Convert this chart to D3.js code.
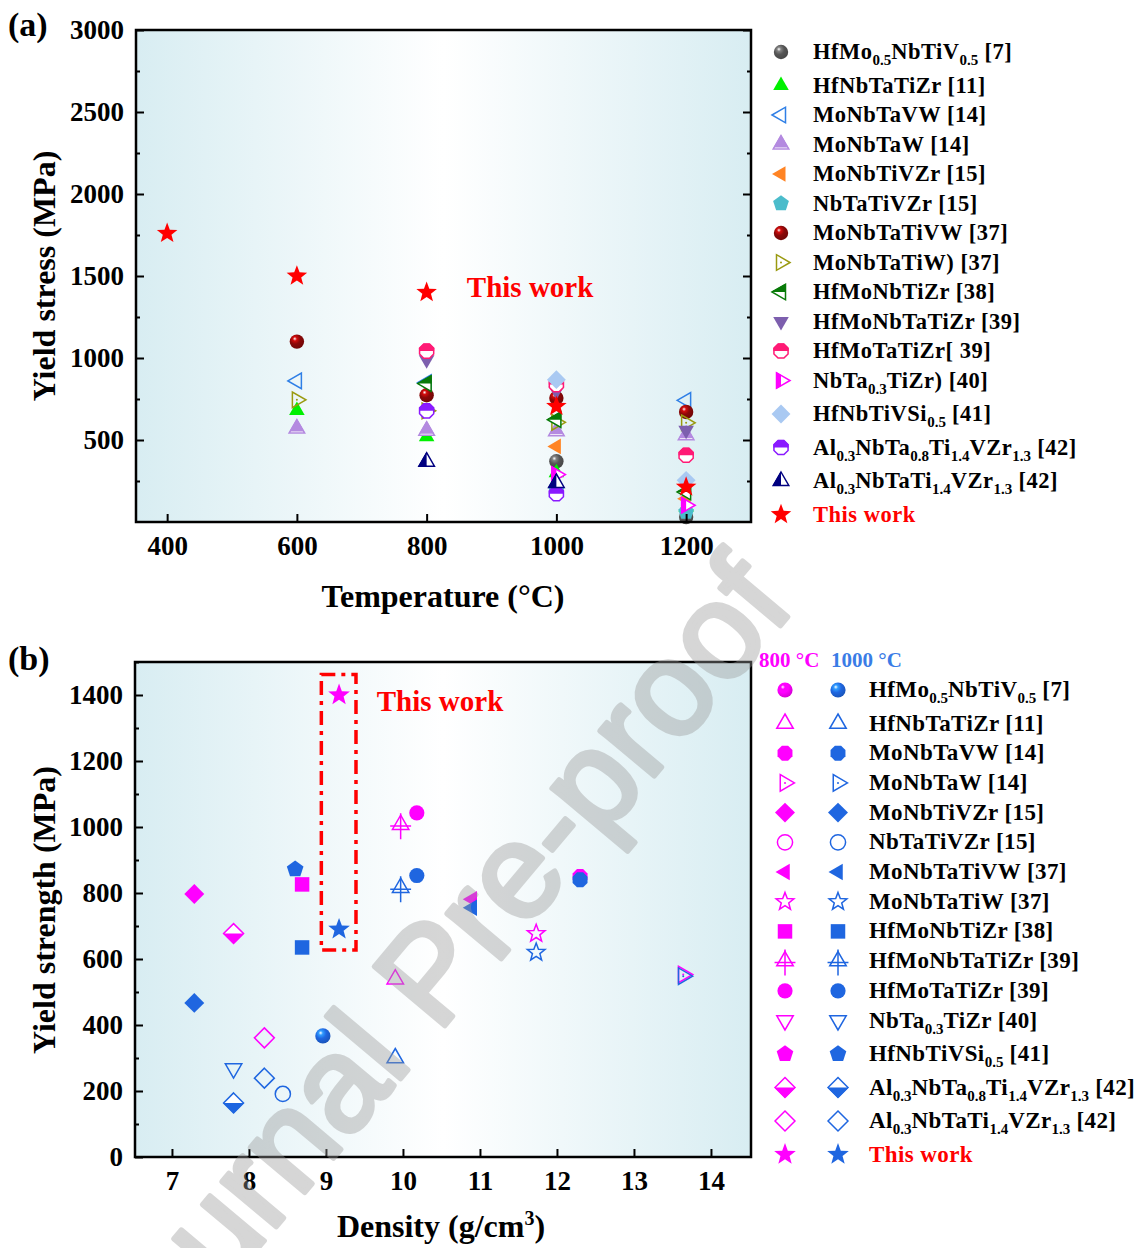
<!DOCTYPE html>
<meta charset="utf-8">
<style>
body { margin: 0; background: #fff; }
svg { display: block; }
text { font-family: "Liberation Serif", "Times New Roman", serif; font-weight: bold; fill: #000; }
</style>
<svg width="1144" height="1248"></svg>
<script src="https://cdn.jsdelivr.net/npm/d3@7"></script>
<script>

// ---------- panel (a): yield stress vs temperature ----------
var temps = [400, 600, 800, 1000, 1200];
var tempTicks = [400, 600, 800, 1000, 1200];
var stressTicks = [500, 1000, 1500, 2000, 2500, 3000];
var stressMinor = [250, 750, 1250, 1750, 2250, 2750];

var alloysA = [
  "HfMo{0.5}NbTiV{0.5} [7]", "HfNbTaTiZr [11]", "MoNbTaVW [14]", "MoNbTaW [14]",
  "MoNbTiVZr [15]", "NbTaTiVZr [15]", "MoNbTaTiVW [37]", "MoNbTaTiW) [37]",
  "HfMoNbTiZr [38]", "HfMoNbTaTiZr [39]", "HfMoTaTiZr[ 39]", "NbTa{0.3}TiZr) [40]",
  "HfNbTiVSi{0.5} [41]", "Al{0.3}NbTa{0.8}Ti{1.4}VZr{1.3} [42]",
  "Al{0.3}NbTaTi{1.4}VZr{1.3} [42]", "This work"
];
// one row per alloy, one column per temperature (null = not tested)
var stressA = [
  [null, null, null, 370, 30],
  [null, 680, 520, 300, 92],
  [null, 860, 850, null, 742],
  [null, 570, 557, 553, 529],
  [null, null, null, 461, 142],
  [null, null, null, 191, 61],
  [null, 1100, 773, 756, 671],
  [null, 745, 678, 608, 605],
  [null, null, 844, 624, 183],
  [null, null, 990, 800, 559],
  [null, null, 1042, 838, 407],
  [null, null, null, 289, 102],
  [null, null, null, 868, 254],
  [null, null, 678, 172, null],
  [null, null, 368, 238, null],
  [1760, 1500, 1400, 705, 213]
];

// ---------- panel (b): yield strength vs density ----------
var densTicks = [7, 8, 9, 10, 11, 12, 13, 14];
var strengthTicks = [0, 200, 400, 600, 800, 1000, 1200, 1400];
var strengthMinor = [100, 300, 500, 700, 900, 1100, 1300, 1500];

var alloysB = [
  "HfMo{0.5}NbTiV{0.5} [7]", "HfNbTaTiZr [11]", "MoNbTaVW [14]", "MoNbTaW [14]",
  "MoNbTiVZr [15]", "NbTaTiVZr [15]", "MoNbTaTiVW [37]", "MoNbTaTiW [37]",
  "HfMoNbTiZr [38]", "HfMoNbTaTiZr [39]", "HfMoTaTiZr [39]", "NbTa{0.3}TiZr [40]",
  "HfNbTiVSi{0.5} [41]", "Al{0.3}NbTa{0.8}Ti{1.4}VZr{1.3} [42]",
  "Al{0.3}NbTaTi{1.4}VZr{1.3} [42]", "This work"
];
var density = [8.96, 9.9, 12.3, 13.64, 7.29, 8.44, 10.9, 11.73, 8.69, 9.97, 10.18, 7.8, 8.6, 7.8, 8.2, 9.17];
var strength800 = [null, 539, 850, 553, 797, null, 781, 677, 826, 1007, 1043, null, null, 677, 361, 1400];
var strength1000 = [367, 300, 840, 548, 467, 191, 755, 620, 635, 816, 853, 268, 872, 164, 239, 690];
var tempLabels = ["800 °C", "1000 °C"];

// ---------- marker styles ----------
var markA = [
  {shape: "circle", color: "#555555", fill: "sphere"},
  {shape: "triUp", color: "#00f000", fill: "full"},
  {shape: "triLeft", color: "#2f7fe6", fill: "open"},
  {shape: "triUp", color: "#b48ae0", fill: "upper"},
  {shape: "triLeft", color: "#ff8424", fill: "full"},
  {shape: "pentagon", color: "#4bbccb", fill: "full"},
  {shape: "circle", color: "#8a0808", fill: "sphere"},
  {shape: "triRight", color: "#9a9a10", fill: "open", dot: true},
  {shape: "triLeft", color: "#087a08", fill: "top"},
  {shape: "triDown", color: "#7d5fae", fill: "full"},
  {shape: "octagon", color: "#ff1a75", fill: "top"},
  {shape: "triRight", color: "#ff00ff", fill: "left"},
  {shape: "diamond", color: "#a9c9f2", fill: "full"},
  {shape: "octagon", color: "#8a1aff", fill: "top"},
  {shape: "triUp", color: "#000080", fill: "left"},
  {shape: "star", color: "#ff0000", fill: "full"}
];
var markB = [
  {shape: "circle", fill: "sphere"},
  {shape: "triUp", fill: "open"},
  {shape: "octagon", fill: "full"},
  {shape: "triRight", fill: "open", dot: true},
  {shape: "diamond", fill: "full"},
  {shape: "circle", fill: "open"},
  {shape: "triLeft", fill: "full"},
  {shape: "starOpen", fill: "open"},
  {shape: "square", fill: "full"},
  {shape: "triUp", fill: "open", cross: true},
  {shape: "circle", fill: "full"},
  {shape: "triDown", fill: "open"},
  {shape: "pentagon", fill: "full"},
  {shape: "diamond", fill: "bottom"},
  {shape: "diamond", fill: "open"},
  {shape: "star", fill: "full"}
];
var tempColors = ["#ff00ff", "#1f66e0"];

var svg = d3.select("svg");
svg.append("rect").attr("width", 1144).attr("height", 1248).attr("fill", "#fff");
var defs = svg.append("defs");

var bg = defs.append("linearGradient").attr("id", "bg");
bg.append("stop").attr("offset", 0).attr("stop-color", "#d8edf2");
bg.append("stop").attr("offset", 0.5).attr("stop-color", "#ffffff");
bg.append("stop").attr("offset", 1).attr("stop-color", "#d8edf2");

var halves = {top: [-30, -30, 60, 30], bottom: [-30, 0, 60, 30], left: [-30, -30, 30, 60], upper: [-30, -30, 60, 33]};
Object.keys(halves).forEach(function(k) {
  var h = halves[k];
  defs.append("clipPath").attr("id", "half-" + k)
    .append("rect").attr("x", h[0]).attr("y", h[1]).attr("width", h[2]).attr("height", h[3]);
});

var sphereIds = {};
function sphereGrad(color) {
  var id = "sph" + color.slice(1);
  if (!sphereIds[id]) {
    var g = defs.append("radialGradient").attr("id", id)
      .attr("cx", 0.4).attr("cy", 0.35).attr("r", 0.7).attr("fx", 0.35).attr("fy", 0.3);
    g.append("stop").attr("offset", 0).attr("stop-color", "#ffffff");
    g.append("stop").attr("offset", 0.2).attr("stop-color", d3.color(color).brighter(1.2));
    g.append("stop").attr("offset", 0.5).attr("stop-color", color);
    g.append("stop").attr("offset", 1).attr("stop-color", d3.color(color).darker(0.6));
    sphereIds[id] = true;
  }
  return "url(#" + id + ")";
}

function poly(n, r, a0) {
  var p = [];
  for (var i = 0; i < n; i++) {
    var a = (a0 + 360 * i / n) * Math.PI / 180;
    p.push([r * Math.cos(a), r * Math.sin(a)]);
  }
  return p;
}
function starPts(r) {
  var p = [];
  for (var i = 0; i < 10; i++) {
    var rr = i % 2 ? r * 0.42 : r, a = (-90 + 36 * i) * Math.PI / 180;
    p.push([rr * Math.cos(a), rr * Math.sin(a)]);
  }
  return p;
}
function shapePath(shape, r) {
  if (shape === "circle") return d3.arc()({innerRadius: 0, outerRadius: r * 0.8, startAngle: 0, endAngle: 2 * Math.PI});
  var pts = {
    triUp: poly(3, r, -90),
    triDown: poly(3, r, 90),
    triLeft: poly(3, r, 180),
    triRight: poly(3, r, 0),
    diamond: poly(4, r * 1.05, -90),
    square: poly(4, r * 1.08, 45),
    pentagon: poly(5, r * 0.92, -90),
    octagon: poly(8, r * 0.85, 22.5),
    star: starPts(r * 1.2),
    starOpen: starPts(r * 0.98)
  }[shape];
  return "M" + pts.map(function(p) { return p[0].toFixed(2) + "," + p[1].toFixed(2); }).join("L") + "Z";
}

function drawMarker(g, m, color, r) {
  var d = shapePath(m.shape, r);
  if (m.fill === "full") {
    g.append("path").attr("d", d).attr("fill", color);
  } else if (m.fill === "sphere") {
    g.append("path").attr("d", d).attr("fill", sphereGrad(color));
  } else if (m.fill === "open") {
    g.append("path").attr("d", d).attr("fill", "none").attr("stroke", color).attr("stroke-width", 1.5);
  } else {
    g.append("path").attr("d", d).attr("fill", "#fff").attr("stroke", color).attr("stroke-width", 1.5);
    g.append("path").attr("d", d).attr("fill", color).attr("stroke", color).attr("stroke-width", 1)
      .attr("clip-path", "url(#half-" + m.fill + ")");
  }
  if (m.dot) g.append("circle").attr("r", 1).attr("fill", color);
  if (m.cross) {
    g.append("path").attr("d", "M0," + (-r - 2) + "V" + (r + 5) + "M" + (-r * 1.1) + "," + (r * 0.15) + "H" + (r * 1.1))
      .attr("stroke", color).attr("stroke-width", 1.5).attr("fill", "none");
  }
}

function fillLabel(t, label) {
  var sub = false;
  label.split(/(\{[^}]*\})/).forEach(function(part) {
    if (!part) return;
    var isSub = part[0] === "{";
    var ts = t.append("tspan").text(isSub ? part.slice(1, -1) : part);
    if (isSub) ts.style("font-size", "15px").style("letter-spacing", "0px");
    if (isSub !== sub) ts.attr("dy", isSub ? 6 : -6);
    sub = isSub;
  });
}

function plotBack(x, y) {
  svg.append("rect")
    .attr("x", x.range()[0]).attr("y", y.range()[1])
    .attr("width", x.range()[1] - x.range()[0]).attr("height", y.range()[0] - y.range()[1])
    .attr("fill", "url(#bg)");
}

function plotAxes(x, y, xt, yt, ym, right) {
  var x0 = x.range()[0], x1 = x.range()[1], y0 = y.range()[0], y1 = y.range()[1];
  var fmt = d3.format("d");
  var gx = svg.append("g").attr("transform", "translate(0," + y0 + ")")
    .call(d3.axisBottom(x).tickValues(xt).tickFormat(fmt).tickSizeInner(-8).tickSizeOuter(0).tickPadding(14));
  var gy = svg.append("g").attr("transform", "translate(" + x0 + ",0)")
    .call(d3.axisLeft(y).tickValues(yt).tickFormat(fmt).tickSizeInner(-8).tickSizeOuter(0).tickPadding(12));
  var gm = svg.append("g").attr("transform", "translate(" + x0 + ",0)")
    .call(d3.axisLeft(y).tickValues(ym).tickSizeInner(-4).tickSizeOuter(0).tickFormat(""));
  var all = [gx, gy, gm];
  if (right) {
    all.push(svg.append("g").attr("transform", "translate(" + x1 + ",0)")
      .call(d3.axisRight(y).tickValues(yt).tickSizeInner(-8).tickSizeOuter(0).tickFormat("")));
    all.push(svg.append("g").attr("transform", "translate(" + x1 + ",0)")
      .call(d3.axisRight(y).tickValues(ym).tickSizeInner(-4).tickSizeOuter(0).tickFormat("")));
  }
  all.forEach(function(g) {
    g.attr("font-family", null).attr("font-size", null).attr("color", "#000");
    g.select(".domain").remove();
    g.selectAll("line").attr("stroke-width", 2);
    g.selectAll("text").style("font-size", "27px");
  });
  svg.append("rect").attr("x", x0).attr("y", y1).attr("width", x1 - x0).attr("height", y0 - y1)
    .attr("fill", "none").attr("stroke", "#000").attr("stroke-width", 2.5);
}

// ================= panel (a) =================
var ax = d3.scaleLinear().domain([352, 1300]).range([136, 751]);
var ay = d3.scaleLinear().domain([0, 3000]).range([522, 30]);
var rA = 9;

plotBack(ax, ay);
stressA.forEach(function(row, i) {
  row.forEach(function(v, j) {
    if (v == null) return;
    var g = svg.append("g").attr("transform", "translate(" + ax(temps[j]) + "," + ay(v) + ")");
    drawMarker(g, markA[i], markA[i].color, rA);
  });
});
plotAxes(ax, ay, tempTicks, stressTicks, stressMinor, true);

svg.append("text").attr("x", ax(862)).attr("y", ay(1372))
  .style("fill", "#ff0000").style("font-size", "29px").text("This work");

svg.append("text").attr("x", 443).attr("y", 607).attr("text-anchor", "middle")
  .style("font-size", "32px").text("Temperature (°C)");
svg.append("text").attr("transform", "translate(55,276) rotate(-90)").attr("text-anchor", "middle")
  .style("font-size", "32px").text("Yield stress (MPa)");
svg.append("text").attr("x", 8).attr("y", 36).style("font-size", "34px").text("(a)");

// legend (a)
var ly = 52;
alloysA.forEach(function(label, i) {
  var g = svg.append("g").attr("transform", "translate(781," + ly + ")");
  drawMarker(g, markA[i], markA[i].color, rA);
  var t = svg.append("text").attr("x", 813).attr("y", ly + 7)
    .style("font-size", "22.5px").style("letter-spacing", "0.5px");
  if (i === alloysA.length - 1) t.style("fill", "#ff0000");
  fillLabel(t, label);
  ly += label.indexOf("{") >= 0 ? 33.5 : 29.5;
});

// ================= panel (b) =================
var bx = d3.scaleLinear().domain([6.52, 14.52]).range([135, 751]);
var by = d3.scaleLinear().domain([0, 1500]).range([1157, 662]);
var rB = 9.5;

plotBack(bx, by);
[strength800, strength1000].forEach(function(vals, k) {
  vals.forEach(function(v, i) {
    if (v == null) return;
    var g = svg.append("g").attr("transform", "translate(" + bx(density[i]) + "," + by(v) + ")");
    drawMarker(g, markB[i], tempColors[k], rB);
  });
});

// dash-dot box around this work
svg.append("rect")
  .attr("x", bx(8.94)).attr("y", by(1462))
  .attr("width", bx(9.39) - bx(8.94)).attr("height", by(627) - by(1462))
  .attr("fill", "none").attr("stroke", "#ff0000").attr("stroke-width", 3.5)
  .attr("stroke-dasharray", "14,6,4,6");

plotAxes(bx, by, densTicks, strengthTicks, strengthMinor, false);

svg.append("text").attr("x", bx(9.66)).attr("y", by(1352))
  .style("fill", "#ff0000").style("font-size", "29px").text("This work");

var xt = svg.append("text").attr("x", 441).attr("y", 1237).attr("text-anchor", "middle").style("font-size", "32px");
xt.append("tspan").text("Density (g/cm");
xt.append("tspan").attr("dy", -12).style("font-size", "20px").text("3");
xt.append("tspan").attr("dy", 12).text(")");
svg.append("text").attr("transform", "translate(55,910) rotate(-90)").attr("text-anchor", "middle")
  .style("font-size", "32px").text("Yield strength (MPa)");
svg.append("text").attr("x", 8).attr("y", 670).style("font-size", "34px").text("(b)");

// legend (b)
svg.append("text").attr("x", 759).attr("y", 667).style("font-size", "21px")
  .style("fill", tempColors[0]).text(tempLabels[0]);
svg.append("text").attr("x", 831).attr("y", 667).style("font-size", "21px")
  .style("fill", "#3a7ce6").text(tempLabels[1]);
var lyb = 690;
alloysB.forEach(function(label, i) {
  [785, 838].forEach(function(mx, k) {
    var g = svg.append("g").attr("transform", "translate(" + mx + "," + lyb + ")");
    drawMarker(g, markB[i], tempColors[k], rB);
  });
  var t = svg.append("text").attr("x", 869).attr("y", lyb + 7)
    .style("font-size", "23px").style("letter-spacing", "0.4px");
  if (i === alloysB.length - 1) t.style("fill", "#ff0000");
  fillLabel(t, label);
  lyb += label.indexOf("{") >= 0 ? 33.5 : 29.7;
});

// watermark
svg.append("g").attr("opacity", 0.4)
  .append("text")
  .attr("transform", "translate(464,1003) rotate(-50)")
  .attr("text-anchor", "middle")
  .style("font-family", "'Liberation Sans', Arial, sans-serif")
  .style("font-weight", "normal")
  .style("font-size", "134px")
  .style("fill", "#9a9a9a")
  .style("stroke", "#9a9a9a")
  .style("stroke-width", "5px")
  .style("stroke-linejoin", "round")
  .text("Journal Pre-proof");
</script>
